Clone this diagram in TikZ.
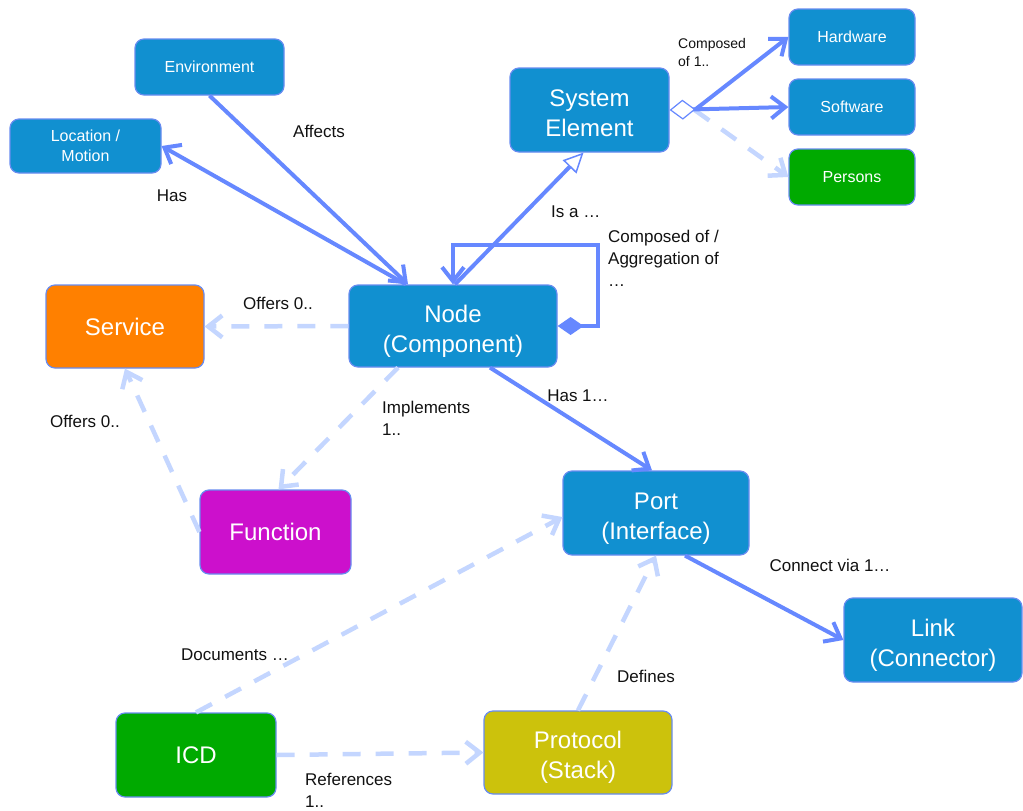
\documentclass[tikz,border=0pt]{standalone}
\usepackage{fontspec}
\setmainfont{Liberation Sans}
\usetikzlibrary{arrows.meta,positioning,calc}
\definecolor{boxblue}{RGB}{17,144,208}
\definecolor{boxline}{RGB}{104,140,240}
\definecolor{relsolid}{RGB}{102,136,255}
\definecolor{reldash}{RGB}{196,214,255}
\definecolor{svcorange}{RGB}{255,128,0}
\definecolor{fnmagenta}{RGB}{204,16,204}
\definecolor{elgreen}{RGB}{0,170,0}
\definecolor{protoolive}{RGB}{204,194,12}
\definecolor{lbltext}{RGB}{17,17,17}

\tikzset{
  box/.style={draw=boxline, fill=boxblue, line width=1.2pt, rounded corners=9pt,
    text=white, align=center, inner sep=0pt, font=\fontsize{16}{20}\selectfont},
  bigbox/.style={box, font=\fontsize{24}{30}\selectfont},
  twoline/.style={text height=54pt, text depth=2pt},
  lbl/.style={text=lbltext, align=left, inner sep=0pt, font=\fontsize{17}{22}\selectfont},
  rel/.style={draw=relsolid, line width=4pt, -{Straight Barb[length=14pt,width=22pt]}},
  dep/.style={draw=reldash, line width=4.5pt, dash pattern=on 18pt off 15pt,
    -{Straight Barb[length=14pt,width=22pt]}},
}

\begin{document}
\begin{tikzpicture}[x=1pt, y=-1pt]
    \useasboundingbox (0,0) rectangle (1023,811);
    % boxes
    \node[box, minimum width=149pt, minimum height=56pt] (env) at (209.5,67) {Environment};
    \node[box, minimum width=151pt, minimum height=54pt] (loc) at (85.5,146) {Location /\\Motion};
    \node[bigbox, twoline, minimum width=159pt, minimum height=84pt] (se) at (589.5,110) {System\\Element};
    \node[box, minimum width=126pt, minimum height=56pt] (hw) at (852,37) {Hardware};
    \node[box, minimum width=126pt, minimum height=56pt] (sw) at (852,107) {Software};
    \node[box, fill=elgreen, minimum width=126pt, minimum height=56pt] (ps) at (852,177) {Persons};
    \node[bigbox, fill=svcorange, minimum width=158pt, minimum height=83pt] (svc) at (125,326.5) {Service};
    \node[bigbox, twoline, minimum width=208pt, minimum height=82pt] (nd) at (453,326) {Node\\(Component)};
    \node[bigbox, fill=fnmagenta, minimum width=151pt, minimum height=84pt] (fn) at (275.5,532) {Function};
    \node[bigbox, twoline, minimum width=186pt, minimum height=84pt] (port) at (656,513) {Port\\(Interface)};
    \node[bigbox, twoline, minimum width=178pt, minimum height=84pt] (link) at (933,640) {Link\\(Connector)};
    \node[bigbox, fill=elgreen, minimum width=160pt, minimum height=84pt] (icd) at (196,755) {ICD};
    \node[bigbox, twoline, fill=protoolive, minimum width=188pt, minimum height=83pt] (proto) at (578,752.5) {Protocol\\(Stack)};

    % solid relations
    \draw[rel] (env.south) -- ([xshift=-45pt]nd.north);
    \draw[rel] ([xshift=-47pt]nd.north) -- (loc.east);
    \draw[rel, -{Triangle[open,fill=white,length=20pt,width=19pt,line width=1.5pt]}]
        ([xshift=2pt]nd.north) -- ([xshift=-6pt]se.south);
    \draw[rel, {Diamond[length=26pt,width=18pt]}-{Straight Barb[length=14pt,width=22pt]}]
        (nd.east) -- ++(40,0) |- ([yshift=39pt]nd.north) -- (nd.north);
    \coordinate (seagg) at ([xshift=25pt]se.east);
    \draw[rel] (seagg) -- (hw.west);
    \draw[dep] (seagg) -- (ps.west);
    \draw[rel, {Diamond[open,fill=white,length=26pt,width=20pt,line width=1.2pt]}-{Straight Barb[length=14pt,width=22pt]}]
        (se.east) -- (sw.west);
    \draw[rel] ([xshift=37pt]nd.south) -- ([xshift=-4pt]port.north);
    \draw[rel] ([xshift=29pt]port.south) -- (link.west);

    % dashed relations
    \draw[dep] (nd.west) -- (svc.east);
    \draw[dep] (fn.west) -- (svc.south);
    \draw[dep] ([xshift=-55pt]nd.south) -- ([xshift=3pt]fn.north);
    \draw[dep] (icd.north) -- ([yshift=-4pt]port.west);
    \draw[dep] (icd.east) -- (proto.west);
    \draw[dep] (proto.north) -- (port.south);

    % labels
    \node[lbl] (laff) at (319,131) {Affects};
    \node[lbl] (lhas) at (172,196) {Has};
    \node[lbl, anchor=west] (lisa) at (551,212) {Is a …};
    \node[lbl, anchor=north west] (lagg) at (608,230) {Composed of /\\Aggregation of\\…};
    \node[lbl, anchor=north west, font=\fontsize{14}{18}\selectfont] (lcmp) at (678,38) {Composed\\of 1..};
    \node[lbl] (loffn) at (278,303) {Offers 0..};
    \node[lbl] (lofff) at (85,421) {Offers 0..};
    \node[lbl, anchor=north west] (limpl) at (382,401) {Implements\\1..};
    \node[lbl] (lhasp) at (578,396) {Has 1…};
    \node[lbl] (ldoc) at (235,655) {Documents …};
    \node[lbl] (ldef) at (646,676) {Defines};
    \node[lbl] (lcon) at (830,565) {Connect via 1…};
    \node[lbl, anchor=north west] (lref) at (305,773) {References\\1..};
\end{tikzpicture}
\end{document}
